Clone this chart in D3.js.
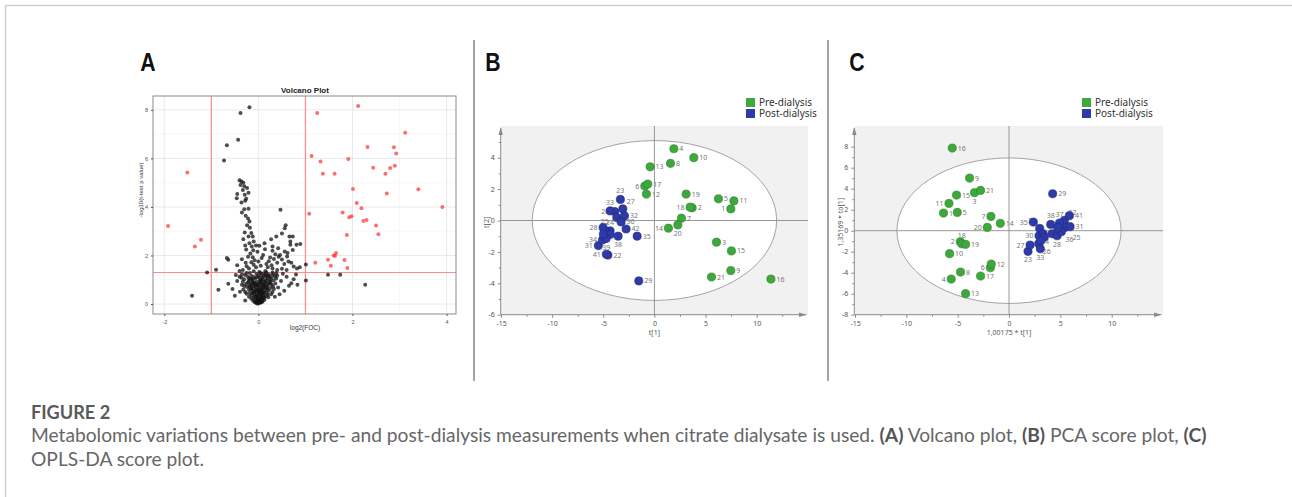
<!DOCTYPE html>
<html><head><meta charset="utf-8">
<script src="https://cdn.jsdelivr.net/npm/d3@7"></script>
<style>body{margin:0;background:#fff;overflow:hidden}svg{display:block}</style>
</head><body>
<svg id="c" width="1292" height="497"></svg>
<script>
// ---------------- DATA ----------------
const panelLetters = ["A", "B", "C"];
const volcanoTitle = "Volcano Plot";
const volcanoXTicks = [-2, 0, 2, 4];
const volcanoYTicks = [0, 2, 4, 6, 8];
const volcanoXLabel = "log2(FOC)";
const volcanoYLabel = "-log10(t-test p value)";
const volcanoFCCut = [-1, 1];
const volcanoPCut = 1.3;
const volcanoRed = [
  [2.12,8.16],[1.25,7.87],[3.12,7.06],[2.32,6.47],[2.88,6.46],[2.93,6.20],[1.13,6.10],[1.91,5.97],
  [1.32,5.87],[2.90,5.70],[2.44,5.61],[2.80,5.60],[2.70,5.37],[1.37,5.37],[1.62,5.37],[2.01,4.74],
  [3.40,4.73],[2.73,4.55],[2.09,4.16],[2.19,3.95],[3.91,4.00],[1.08,3.72],[1.79,3.77],[1.93,3.58],
  [1.98,3.62],[2.23,3.42],[2.30,3.46],[2.50,3.24],[2.55,2.88],[1.88,2.84],[1.65,2.10],[1.60,2.00],
  [1.63,1.99],[1.48,1.82],[1.83,1.81],[1.21,1.70],[1.54,1.58],[1.89,1.49],
  [-1.51,5.42],[-1.92,3.22],[-1.22,2.65],[-1.35,2.37]
];
const volcanoBlack = [
  [-0.19,8.11],[-0.38,7.87],[-0.43,6.77],[-0.67,6.54],[-0.73,5.91],
  [-0.40,5.10],[-0.36,5.05],[-0.32,5.00],[-0.38,4.90],[-0.30,4.85],[-0.24,4.78],[-0.33,4.70],[-0.29,4.50],
  [-0.45,4.53],[-0.21,4.58],[-0.26,4.34],[-0.46,4.36],[-0.36,4.18],[-0.28,4.26],
  [-0.30,3.91],[-0.21,3.93],[-0.35,3.77],[-0.27,3.64],[-0.22,3.52],[-0.19,3.40],[-0.24,3.25],[-0.18,3.14],
  [-0.29,2.95],[-0.15,2.93],[-0.21,2.78],[-0.12,2.78],[-0.32,2.67],[-0.10,2.58],[-0.19,2.50],[-0.28,2.41],
  [-0.14,2.37],[-0.05,2.41],[-0.26,2.25],[-0.11,2.22],
  [0.47,3.88],[0.58,3.25],[0.56,3.12],[0.50,2.91],[0.66,2.78],[0.73,2.78],[0.38,2.78],[0.27,2.67],
  [0.68,2.58],[0.68,2.44],[0.81,2.44],[0.13,2.50],[0.30,2.37],[0.42,2.30],[0.56,2.16],[0.62,2.10],
  [0.73,2.23],[0.61,1.96],[0.46,2.02],[0.89,2.47],
  [-0.67,1.90],[-0.64,1.82],[-0.22,1.95],[-0.17,2.08],[-0.12,1.93],[-0.08,1.80],[0.00,1.75],[0.07,1.90],
  [0.10,2.02],[0.17,1.65],[0.22,1.76],[0.28,1.60],[0.33,1.86],[0.40,1.70],[0.43,1.95],[0.50,1.84],
  [0.55,1.65],[0.64,1.75],[0.70,1.70],[0.75,1.55],[0.82,1.46],[0.88,1.52],[0.50,1.45],[0.40,1.40],
  [0.30,1.46],[0.20,1.52],[0.15,1.36],[-0.05,1.52],[-0.10,1.62],[-0.20,1.46],[-0.25,1.56],[-0.33,1.40],
  [-0.40,1.36],[-0.45,1.60],[-0.27,1.70],[0.30,2.20],[0.02,2.40],[0.14,2.26],[-0.02,2.15],[0.36,2.05],
  [-0.15,1.72],[0.05,1.58],[0.25,1.92],[-0.35,1.85],[0.60,1.40],
  [-1.41,0.34],[-1.09,1.30],[-0.90,1.41],[-0.85,0.59],[-0.64,0.84],[-0.50,0.34],[-0.39,0.51],[-0.28,0.15],
  [-0.45,0.95],[-0.55,0.62],[-0.40,1.12],[-0.35,0.80],[-0.48,1.20],[-0.35,1.23],
  [0.65,0.75],[0.70,0.86],[0.55,0.55],[0.75,1.02],[0.60,1.12],[0.48,0.95],[0.80,1.22],[0.83,0.80],
  [0.42,0.68],[0.38,1.05],[0.52,1.25],[0.45,0.40],[0.35,0.30],
  [1.01,1.63],[1.01,0.97],[1.48,1.21],[1.74,1.21],[2.27,0.79],
  [0.00,0.02],[0.02,0.08],[-0.03,0.10],[0.05,0.15],[-0.06,0.18],[0.08,0.20],[0.00,0.22],[-0.10,0.25],
  [0.12,0.26],[0.03,0.30],[-0.04,0.33],[0.15,0.32],[-0.14,0.35],[0.06,0.38],[-0.08,0.40],[0.10,0.42],
  [0.00,0.45],[-0.18,0.44],[0.18,0.46],[0.04,0.50],[-0.06,0.52],[0.13,0.55],[-0.12,0.56],[0.22,0.55],
  [-0.20,0.58],[0.02,0.60],[0.08,0.62],[-0.03,0.65],[0.16,0.66],[-0.15,0.68],[0.25,0.65],[-0.24,0.70],
  [0.05,0.72],[-0.08,0.74],[0.11,0.76],[0.20,0.78],[-0.18,0.80],[0.00,0.82],[0.28,0.80],[-0.26,0.84],
  [0.07,0.86],[-0.10,0.88],[0.15,0.90],[-0.04,0.92],[0.24,0.94],[-0.20,0.95],[0.03,0.98],[0.32,0.98],
  [-0.13,1.00],[0.10,1.02],[-0.30,1.02],[0.19,1.05],[-0.06,1.06],[0.00,1.10],[0.27,1.10],[-0.22,1.12],
  [0.13,1.14],[-0.14,1.16],[0.06,1.18],[0.35,1.15],[-0.28,1.20],[0.22,1.22],[-0.04,1.24],[0.10,1.26],
  [-0.18,1.28],[0.30,1.30],[0.02,1.32],[-0.10,1.35],[0.15,1.20],[-0.01,0.55],[0.03,0.40],[-0.02,0.28],
  [0.06,0.25],[-0.09,0.48],[0.11,0.35],[0.09,0.68],[-0.12,0.78],[0.18,0.60],[-0.16,0.62],[0.01,0.70],
  [0.05,0.92],[-0.07,0.85],[0.14,0.82],[0.26,0.88],[-0.22,0.90],[0.36,0.85],[0.40,1.18],[-0.32,0.60],
  [0.30,0.50],[0.20,0.38],[-0.25,0.42],[-0.01,0.15],[0.04,0.05],[-0.05,0.05],[0.09,0.12],[-0.11,0.14],
  [0.01,0.12],[-0.02,0.20],[0.07,0.30],[-0.07,0.30],[0.12,0.48],[-0.13,0.45],[0.02,0.52],[-0.04,0.58],
  [0.06,0.58],[0.19,0.70],[-0.19,0.72],[0.10,0.80],[-0.02,0.78],[0.03,0.88],[-0.12,0.95],[0.17,0.98],
  [0.08,1.08],[-0.09,1.10],[0.23,1.14],[-0.20,1.05],[0.31,1.22],[-0.25,1.28],[0.04,1.28],[0.17,1.30],
  [-0.03,0.02],[0.07,0.07],[-0.08,0.08],[0.13,0.18],[-0.15,0.22],[0.21,0.28],[-0.20,0.30],[0.27,0.40],
  [-0.28,0.50],[0.33,0.62],[-0.30,0.74],[0.31,0.72],[0.12,0.92],[-0.16,1.04],[0.26,1.02],[-0.33,0.92],
  [0.05,1.00],[-0.01,1.16],[0.18,1.16],[0.38,1.28],[-0.36,1.08],[-0.02,0.38],[0.09,0.50],[-0.10,0.64],
  [0.14,0.70],[-0.05,0.76],[0.22,0.86],[-0.14,0.86]
];

const groupNames = ["Pre-dialysis", "Post-dialysis"];
const scoreXTicks = [-15, -10, -5, 0, 5, 10];
const pcaYTicks = [-6, -4, -2, 0, 2, 4];
const oplsYTicks = [-8, -6, -4, -2, 0, 2, 4, 6, 8];
const pcaXLabel = "t[1]", pcaYLabel = "t[2]";
const oplsXLabel = "1,00175 * t[1]", oplsYLabel = "1,35169 * to[1]";
const pcaEllipse = [11.95, 5.09];
const oplsEllipse = [10.92, 6.93];

// PCA scores: [sample id, t1, t2]
const pcaPre = [
  [1,7.47,0.74],[2,3.69,0.81],[3,6.07,-1.38],[4,1.90,4.57],[5,6.26,1.38],[6,-0.94,2.19],[7,2.64,0.15],
  [8,1.57,3.64],[9,7.47,-3.19],[10,3.85,4.00],[11,7.77,1.25],[12,-0.78,1.68],[13,-0.42,3.42],[14,1.37,-0.49],
  [15,7.53,-1.94],[16,11.39,-3.73],[17,-0.65,2.32],[18,3.49,0.85],[19,3.10,1.68],[20,2.29,-0.28],[21,5.58,-3.60]
];
const pcaPost = [
  [22,-4.55,-2.20],[23,-3.33,1.34],[24,-4.33,-0.66],[25,-4.89,-0.62],[26,-3.88,0.57],[27,-3.09,0.74],
  [28,-5.02,-0.45],[29,-1.53,-3.85],[30,-3.68,0.19],[31,-5.48,-1.60],[32,-2.93,0.29],[33,-4.33,0.61],
  [34,-5.08,-1.24],[35,-1.69,-1.00],[36,-3.26,-0.09],[37,-4.33,-0.89],[38,-3.55,-1.00],[39,-4.72,-1.15],
  [40,-4.99,-0.87],[41,-4.70,-2.15],[42,-2.77,-0.54]
];
// OPLS-DA scores: [sample id, t1, to1]
const oplsPre = [
  [1,-6.38,1.68],[2,-4.75,-1.05],[3,-3.36,3.62],[4,-5.63,-4.61],[5,-5.04,1.74],[6,-1.82,-3.53],[7,-1.76,1.36],
  [8,-4.72,-3.94],[9,-3.84,5.01],[10,-5.79,-2.19],[11,-5.85,2.60],[12,-1.73,-3.18],[13,-4.23,-6.00],[14,-0.85,0.70],
  [15,-5.11,3.39],[16,-5.53,7.87],[17,-2.77,-4.32],[18,-4.60,-1.25],[19,-4.23,-1.30],[20,-2.12,0.31],[21,-2.77,3.84]
];
const oplsPost = [
  [22,5.40,0.98],[23,1.85,-1.97],[24,4.19,-0.29],[25,5.40,0.29],[26,2.89,-1.24],[27,2.05,-1.37],
  [28,4.68,-0.48],[29,4.25,3.52],[30,2.92,-0.48],[31,5.95,0.38],[32,2.99,0.22],[33,3.05,-1.72],
  [34,3.32,-0.29],[35,2.37,0.82],[36,5.10,-0.10],[37,4.91,0.73],[38,4.06,0.60],[39,3.44,-0.61],
  [40,4.74,0.29],[41,5.88,1.43],[42,3.10,-0.95]
];
const captionTitle = "FIGURE 2";
const captionLine1 = [
  ["Metabolomic variations between pre- and post-dialysis measurements when citrate dialysate is used. ", false],
  ["(A)", true], [" Volcano plot, ", false], ["(B)", true], [" PCA score plot, ", false], ["(C)", true]
];
const captionLine2 = "OPLS-DA score plot.";

// label placement (style): r=right, l=left, t=top, b=bottom, n=none
const pcaLabelSide = {1:"l",6:"l",14:"l",18:"l",20:"b",23:"t",27:"tr",33:"t",26:"l",28:"l",25:"t",24:"t",34:"l",31:"l",39:"b",38:"b",41:"l",30:"n",37:"n",40:"n"};
const oplsLabelSide = {3:"b",11:"l",7:"l",20:"l",18:"t",2:"l",6:"l",4:"l",38:"t",37:"t",22:"tr",35:"l",32:"tl",30:"l",24:"bl",28:"b",36:"br",25:"b2",26:"br",27:"l",23:"b",33:"b",34:"n",39:"n",40:"n",42:"n",1:"r"};

// ---------------- DRAW ----------------
const svg = d3.select("#c");
const GREEN = "#3da83b", GREEN_S = "#2c7d2a", BLUE = "#2e3ba6", BLUE_S = "#1d2780";

// page frame
svg.append("line").attr("x1",5).attr("x2",1292).attr("y1",5.5).attr("y2",5.5).attr("stroke","#cfcfcf").attr("stroke-width",1.5);
svg.append("line").attr("x1",5.5).attr("x2",5.5).attr("y1",5).attr("y2",497).attr("stroke","#cfcfcf").attr("stroke-width",1.5);
// separators
[474, 828].forEach(x => svg.append("line").attr("x1",x).attr("x2",x).attr("y1",40).attr("y2",381).attr("stroke","#666").attr("stroke-width",1.2));
// panel letters
[[148,panelLetters[0]],[493,panelLetters[1]],[857,panelLetters[2]]].forEach(([x,t]) =>
  svg.append("text").attr("transform",`translate(${x},71) scale(0.85,1)`).attr("text-anchor","middle")
    .attr("font-family","Liberation Sans, Arial, sans-serif").attr("font-weight","bold").attr("font-size",25).attr("fill","#111").text(t));

// ===== Panel A: volcano =====
(function(){
  const g = svg.append("g");
  const x = d3.scaleLinear().domain([-2.24, 4.2]).range([153, 456]);
  const y = d3.scaleLinear().domain([-0.41, 8.57]).range([314, 96]);
  g.append("rect").attr("x",153).attr("y",96).attr("width",303).attr("height",218).attr("fill","#fff");
  // minor grid
  [-1,1,3].forEach(v => g.append("line").attr("x1",x(v)).attr("x2",x(v)).attr("y1",96).attr("y2",314).attr("stroke","#f3f3f3").attr("stroke-width",0.7));
  [1,3,5,7].forEach(v => g.append("line").attr("y1",y(v)).attr("y2",y(v)).attr("x1",153).attr("x2",456).attr("stroke","#f3f3f3").attr("stroke-width",0.7));
  volcanoXTicks.forEach(v => g.append("line").attr("x1",x(v)).attr("x2",x(v)).attr("y1",96).attr("y2",314).attr("stroke","#e6e6e6").attr("stroke-width",0.9));
  volcanoYTicks.forEach(v => g.append("line").attr("y1",y(v)).attr("y2",y(v)).attr("x1",153).attr("x2",456).attr("stroke","#e6e6e6").attr("stroke-width",0.9));
  // cut lines
  volcanoFCCut.forEach(v => g.append("line").attr("x1",x(v)).attr("x2",x(v)).attr("y1",96).attr("y2",314).attr("stroke","#ff8a8a").attr("stroke-width",1.2));
  g.append("line").attr("x1",153).attr("x2",456).attr("y1",y(volcanoPCut)).attr("y2",y(volcanoPCut)).attr("stroke","#ff8a8a").attr("stroke-width",1.2);
  // points
  g.append("g").selectAll("circle").data(volcanoBlack).join("circle")
    .attr("cx",d=>x(d[0])).attr("cy",d=>y(d[1])).attr("r",2).attr("fill","#111").attr("fill-opacity",0.75);
  g.append("g").selectAll("circle").data(volcanoRed).join("circle")
    .attr("cx",d=>x(d[0])).attr("cy",d=>y(d[1])).attr("r",2).attr("fill","#ff3030").attr("fill-opacity",0.7);
  g.append("rect").attr("x",153).attr("y",96).attr("width",303).attr("height",218).attr("fill","none").attr("stroke","#8a8a8a").attr("stroke-width",1);
  // axes
  const xa = g.append("g").attr("transform","translate(0,314)").call(d3.axisBottom(x).tickValues(volcanoXTicks).tickFormat(d3.format("d")).tickSize(2).tickSizeOuter(0));
  const ya = g.append("g").attr("transform","translate(153,0)").call(d3.axisLeft(y).tickValues(volcanoYTicks).tickFormat(d3.format("d")).tickSize(2).tickSizeOuter(0));
  [xa,ya].forEach(a => { a.select(".domain").remove(); a.selectAll("line").attr("stroke","#555");
    a.selectAll("text").attr("font-family","Liberation Sans, Arial, sans-serif").attr("font-size",5.5).attr("fill","#555"); });
  xa.selectAll("text").text(d=>d<0?"-"+Math.abs(d):d).attr("dy","0.9em");
  g.append("text").attr("x",305).attr("y",93).attr("text-anchor","middle").attr("font-family","Liberation Sans, Arial, sans-serif")
    .attr("font-weight","bold").attr("font-size",8).attr("fill","#222").text(volcanoTitle);
  g.append("text").attr("x",305).attr("y",330).attr("text-anchor","middle").attr("font-family","Liberation Sans, Arial, sans-serif")
    .attr("font-size",6.5).attr("fill","#333").text(volcanoXLabel);
  g.append("text").attr("transform","translate(143,190) rotate(-90)").attr("text-anchor","middle").attr("font-family","Liberation Sans, Arial, sans-serif")
    .attr("font-size",6).attr("fill","#333").text(volcanoYLabel);
})();

// ===== Score plots =====
function scorePlot(cfg){
  const g = svg.append("g");
  const x = d3.scaleLinear().domain([-15,10]).range(cfg.xr);
  const y = d3.scaleLinear().domain(cfg.yd).range(cfg.yr);
  const [L,T,R,B] = cfg.area;
  g.append("rect").attr("x",L).attr("y",T).attr("width",R-L).attr("height",B-T).attr("fill","#f1f1f1");
  g.append("ellipse").attr("cx",x(0)).attr("cy",y(0)).attr("rx",x(cfg.ell[0])-x(0)).attr("ry",y(0)-y(cfg.ell[1]))
    .attr("fill","#fff").attr("stroke","#9a9a9a").attr("stroke-width",0.9);
  g.append("line").attr("x1",x(0)).attr("x2",x(0)).attr("y1",T).attr("y2",B).attr("stroke","#8c8c8c").attr("stroke-width",0.9);
  g.append("line").attr("x1",L).attr("x2",R).attr("y1",y(0)).attr("y2",y(0)).attr("stroke","#8c8c8c").attr("stroke-width",0.9);
  // axes lines with arrows
  const ax = "#8a8a8a";
  g.append("line").attr("x1",cfg.axX).attr("x2",R-2).attr("y1",B).attr("y2",B).attr("stroke",ax).attr("stroke-width",1);
  g.append("path").attr("d",`M${R-1},${B} l-8,-2.2 l0,4.4 z`).attr("fill",ax);
  g.append("line").attr("x1",cfg.axX).attr("x2",cfg.axX).attr("y1",B).attr("y2",T+2).attr("stroke",ax).attr("stroke-width",1);
  g.append("path").attr("d",`M${cfg.axX},${T+1} l-2.2,8 l4.4,0 z`).attr("fill",ax);
  // ticks
  const fmt = d => d<0 ? "-"+Math.abs(d) : String(d);
  const xt = g.append("g").attr("transform",`translate(0,${B})`).call(d3.axisBottom(x).tickValues(scoreXTicks).tickFormat(fmt).tickSize(3).tickSizeOuter(0));
  const xm = g.append("g").attr("transform",`translate(0,${B})`).call(d3.axisBottom(x).tickValues(d3.range(-12.5,15,5)).tickSize(2).tickFormat("").tickSizeOuter(0));
  const yt = g.append("g").attr("transform",`translate(${cfg.axX},0)`).call(d3.axisLeft(y).tickValues(cfg.yTicks).tickSize(3).tickFormat(fmt).tickSizeOuter(0));
  const ym = g.append("g").attr("transform",`translate(${cfg.axX},0)`).call(d3.axisLeft(y).tickValues(cfg.yMinor).tickSize(2).tickFormat("").tickSizeOuter(0));
  [xt,xm,yt,ym].forEach(a => { a.select(".domain").remove(); a.selectAll("line").attr("stroke",ax);
    a.selectAll("text").attr("font-family","Noto Sans, Open Sans, sans-serif").attr("font-size",7).attr("fill","#555"); });
  xt.selectAll("text").attr("dy","0.7em");
  // axis titles
  g.append("text").attr("x",x(0)).attr("y",B+20).attr("text-anchor","middle").attr("font-family","Noto Sans, sans-serif").attr("font-size",7).attr("fill","#555").text(cfg.xl);
  g.append("text").attr("transform",`translate(${cfg.ylx},${(T+B)/2+2}) rotate(-90)`).attr("text-anchor","middle").attr("font-family","Noto Sans, sans-serif").attr("font-size",7).attr("fill","#555").text(cfg.yl);
  // points
  const all = cfg.pre.map(d=>({id:d[0],x:d[1],y:d[2],c:GREEN,s:GREEN_S})).concat(cfg.post.map(d=>({id:d[0],x:d[1],y:d[2],c:BLUE,s:BLUE_S})));
  const off = {r:[5.5,2.5,"start"],l:[-5.5,2.5,"end"],t:[0,-6,"middle"],b:[0,11,"middle"],tr:[4,-5,"start"],tl:[-4,-5,"end"],br:[4,10,"start"],bl:[-3,10,"end"],b2:[8,12,"start"]};
  g.append("g").selectAll("text").data(all.filter(d=>(cfg.side[d.id]||"r")!=="n")).join("text")
    .attr("x",d=>x(d.x)+off[cfg.side[d.id]||"r"][0]).attr("y",d=>y(d.y)+off[cfg.side[d.id]||"r"][1])
    .attr("text-anchor",d=>off[cfg.side[d.id]||"r"][2]).attr("font-family","Noto Sans, sans-serif").attr("font-size",7).attr("fill","#777").text(d=>d.id);
  g.append("g").selectAll("circle").data(all).join("circle")
    .attr("cx",d=>x(d.x)).attr("cy",d=>y(d.y)).attr("r",4.1).attr("fill",d=>d.c).attr("stroke",d=>d.s).attr("stroke-width",0.6);
  // legend
  [[GREEN,groupNames[0]],[BLUE,groupNames[1]]].forEach(([c,t],i) => {
    g.append("rect").attr("x",cfg.leg[0]).attr("y",cfg.leg[1]+i*11).attr("width",9).attr("height",9).attr("fill",c);
    g.append("text").attr("x",cfg.leg[0]+13).attr("y",cfg.leg[1]+8+i*11).attr("font-family","Noto Sans, sans-serif").attr("font-size",10).attr("fill","#333").text(t);
  });
}
scorePlot({xr:[501,756.7], yd:[-6,4], yr:[314.7,157.7], area:[501,126,808,314.7], axX:500.7, ell:pcaEllipse,
  yTicks:pcaYTicks, yMinor:d3.range(-5,6,1).filter(v=>v%2!==0), xl:pcaXLabel, yl:pcaYLabel, ylx:489,
  pre:pcaPre, post:pcaPost, side:pcaLabelSide, leg:[746,98]});
scorePlot({xr:[855,1111.7], yd:[-8,8], yr:[314.7,146.7], area:[855,126,1163,314.7], axX:854.3, ell:oplsEllipse,
  yTicks:oplsYTicks, yMinor:d3.range(-7,9,2), xl:oplsXLabel, yl:oplsYLabel, ylx:843,
  pre:oplsPre, post:oplsPost, side:oplsLabelSide, leg:[1082,98]});

// ===== Caption =====
const capFont = "Lato, Open Sans, sans-serif";
svg.append("text").attr("transform","translate(31,419) scale(0.98,1)").attr("font-family",capFont).attr("font-weight","bold").attr("font-size",18.5).attr("fill","#5a5a5a").text(captionTitle);
const l1 = svg.append("text").attr("x",31).attr("y",442).attr("font-family",capFont).attr("font-size",15).attr("fill","#666");
captionLine1.forEach(([t,b]) => l1.append("tspan").attr("font-weight",b?"bold":"normal").attr("fill",b?"#555":"#666").text(t));
const w = l1.node().getComputedTextLength();
l1.attr("font-size", 15*1176/w);
svg.append("text").attr("x",31).attr("y",466).attr("font-family",capFont).attr("font-size",15*1176/w).attr("fill","#666").text(captionLine2);
</script>
</body></html>
